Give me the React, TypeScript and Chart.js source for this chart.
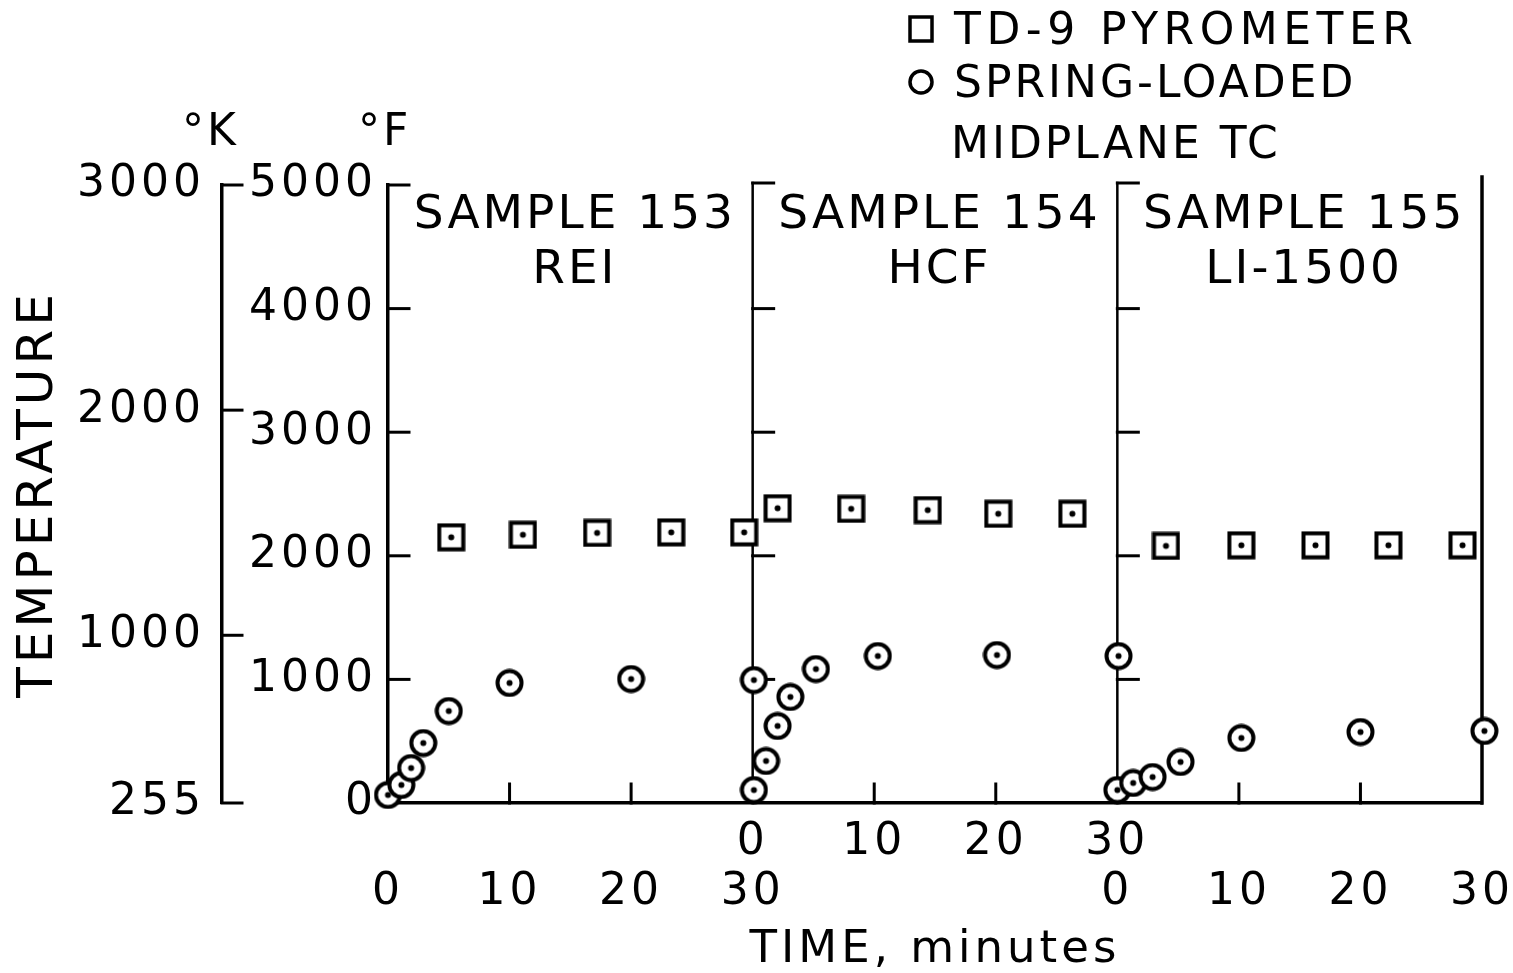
import React, { useEffect, useRef } from "react";
import { Chart, registerables } from "chart.js";

Chart.register(...registerables);

const FONT = "'DejaVu Sans', 'Liberation Sans', sans-serif";

// ---------------- data ----------------
const sampleNames = ["SAMPLE 153", "SAMPLE 154", "SAMPLE 155"];
const materialNames = ["REI", "HCF", "LI-1500"];
const panelMinutes = 30;

const pyroTime153 = [5.2, 11.1, 17.2, 23.3, 29.3];
const pyroTemp153 = [2150, 2170, 2185, 2190, 2190];
const tcTime153 = [0, 1.1, 1.9, 2.9, 5.0, 10.0, 20.0, 30.1];
const tcTemp153 = [65, 146, 283, 485, 744, 971, 1003, 995];

const pyroTime154 = [2.05, 8.1, 14.4, 20.2, 26.3];
const pyroTemp154 = [2385, 2380, 2370, 2340, 2340];
const tcTime154 = [0.1, 1.1, 2.05, 3.1, 5.2, 10.3, 20.1, 30.1];
const tcTemp154 = [105, 340, 623, 858, 1084, 1189, 1197, 1189];

const pyroTime155 = [4.0, 10.2, 16.3, 22.3, 28.4];
const pyroTemp155 = [2080, 2085, 2085, 2085, 2085];
const tcTime155 = [0, 1.3, 2.9, 5.2, 10.2, 20.0, 30.2];
const tcTemp155 = [105, 162, 210, 332, 526, 574, 583];

const fTicks = [0, 1000, 2000, 3000, 4000, 5000];
const kTicks = [255, 1000, 2000, 3000];
const xTickValues = [0, 10, 20, 30, 40, 50, 60, 70, 80, 90];
const xTopRow = ["", "", "", "0", "10", "20", "30", "", "", ""];
const xBottomRow = ["0", "10", "20", "30", "", "", "0", "10", "20", "30"];
const innerMinuteTicks = [10, 20];
const legendPyro = "TD-9 PYROMETER";
const legendTc = ["SPRING-LOADED", "MIDPLANE TC"];

const panels = [
  { pt: pyroTime153, pT: pyroTemp153, tt: tcTime153, tT: tcTemp153 },
  { pt: pyroTime154, pT: pyroTemp154, tt: tcTime154, tT: tcTemp154 },
  { pt: pyroTime155, pT: pyroTemp155, tt: tcTime155, tT: tcTemp155 },
];

const pyroData = panels.flatMap((p, i) =>
  p.pt.map((t, j) => ({ x: i * panelMinutes + t, y: p.pT[j] }))
);
const tcData = panels.flatMap((p, i) =>
  p.tt.map((t, j) => ({ x: i * panelMinutes + t, y: p.tT[j] }))
);

function makeMarker(kind: "square" | "circle", size: number, lw: number, dot: boolean) {
  const c = document.createElement("canvas");
  c.width = size;
  c.height = size;
  const g = c.getContext("2d")!;
  const m = size / 2;
  const r = m - lw / 2 - 0.5;
  g.lineWidth = lw;
  g.strokeStyle = "#000";
  g.fillStyle = "#fff";
  g.beginPath();
  if (kind === "square") g.rect(m - r, m - r, 2 * r, 2 * r);
  else g.arc(m, m, r, 0, Math.PI * 2);
  g.fill();
  g.stroke();
  if (dot) {
    g.beginPath();
    g.fillStyle = "#000";
    g.arc(m, m, 3, 0, Math.PI * 2);
    g.fill();
  }
  return c;
}

function line(ctx: CanvasRenderingContext2D, x1: number, y1: number, x2: number, y2: number) {
  ctx.beginPath();
  ctx.moveTo(x1, y1);
  ctx.lineTo(x2, y2);
  ctx.stroke();
}

function text(
  ctx: CanvasRenderingContext2D,
  s: string,
  x: number,
  y: number,
  size: number,
  align: CanvasTextAlign,
  spacing: number
) {
  ctx.save();
  (ctx as any).letterSpacing = spacing + "px";
  ctx.font = `${size}px ${FONT}`;
  ctx.fillStyle = "#000";
  ctx.textAlign = align;
  ctx.textBaseline = "alphabetic";
  const dx = align === "center" ? spacing / 2 : 0;
  ctx.fillText(s, x + dx, y);
  ctx.restore();
}

const setSpacing = (chart: any) => {
  (chart.ctx as any).letterSpacing = "4px";
};

const decorPlugin = {
  id: "decor",
  afterInit: setSpacing,
  beforeUpdate: setSpacing,
  beforeDraw: setSpacing,
  beforeDatasetsDraw(chart: any) {
    const { ctx, chartArea: ca, scales } = chart;
    const x = scales.x;
    const y = scales.y;
    const yK = scales.yK;
    ctx.save();
    ctx.strokeStyle = "#000";
    ctx.lineCap = "square";
    // panel dividers and right frame
    ctx.lineWidth = 2.5;
    for (let i = 1; i < panels.length; i++) {
      const px = x.getPixelForValue(i * panelMinutes);
      line(ctx, px, ca.top - 2, px, ca.bottom);
    }
    const rx = x.getPixelForValue(panels.length * panelMinutes);
    ctx.lineWidth = 3.5;
    line(ctx, rx, ca.top - 8, rx, ca.bottom);
    // inward ticks on the °F axis and the panel dividers
    ctx.lineWidth = 3;
    for (let i = 0; i < panels.length; i++) {
      const px = x.getPixelForValue(i * panelMinutes);
      for (const f of fTicks) {
        if (f === 0) continue;
        const py = y.getPixelForValue(f) - (f === 5000 && i > 0 ? 2 : 0);
        line(ctx, px, py, px + 21, py);
      }
      for (const m of innerMinuteTicks) {
        const tx = x.getPixelForValue(i * panelMinutes + m);
        line(ctx, tx, ca.bottom, tx, ca.bottom - 19);
      }
    }
    // inward ticks on the °K axis
    for (const k of kTicks) {
      const py = yK.getPixelForValue(k);
      line(ctx, yK.right, py, yK.right + 20, py);
    }
    ctx.restore();
  },
  afterDraw(chart: any) {
    const { ctx, chartArea: ca, scales } = chart;
    const x = scales.x;
    const y = scales.y;
    const yK = scales.yK;
    // unit labels
    text(ctx, "°K", yK.right - 40, ca.top - 40, 44, "left", 3);
    text(ctx, "°F", y.right - 30, ca.top - 40, 44, "left", 3);
    // panel titles
    for (let i = 0; i < panels.length; i++) {
      const cx = x.getPixelForValue(i * panelMinutes + panelMinutes / 2);
      text(ctx, sampleNames[i], cx + 3, ca.top + 43, 47, "center", 3);
      text(ctx, materialNames[i], cx + 3, ca.top + 98, 47, "center", 3);
    }
    // legend
    const lx = ca.left + 533;
    const tx = ca.left + 566;
    ctx.save();
    ctx.strokeStyle = "#000";
    ctx.lineWidth = 3.5;
    ctx.strokeRect(lx - 11, ca.top - 168, 22, 24);
    ctx.beginPath();
    ctx.arc(lx, ca.top - 103, 11, 0, Math.PI * 2);
    ctx.stroke();
    ctx.restore();
    text(ctx, legendPyro, tx, ca.top - 141, 44, "left", 5.5);
    text(ctx, legendTc[0], tx, ca.top - 88, 44, "left", 3);
    text(ctx, legendTc[1], tx - 3, ca.top - 27, 44, "left", 3);
  },
};

export default function App() {
  const ref = useRef<HTMLCanvasElement | null>(null);

  useEffect(() => {
    if (!ref.current) return;
    const squareMarker = makeMarker("square", 29, 4, true);
    const circleMarker = makeMarker("circle", 29, 4, true);
    const tickFont = { family: FONT, size: 44 };
    const plain = (v: any) => String(v);

    const chart = new Chart(ref.current, {
      type: "scatter",
      data: {
        datasets: [
          {
            label: legendPyro,
            data: pyroData,
            pointStyle: squareMarker as any,
            pointRadius: 14,
            showLine: false,
            clip: false as any,
            yAxisID: "y",
          },
          {
            label: legendTc.join(" "),
            data: tcData,
            pointStyle: circleMarker as any,
            pointRadius: 14,
            showLine: false,
            clip: false as any,
            yAxisID: "y",
          },
        ],
      },
      plugins: [decorPlugin as any],
      options: {
        responsive: false,
        animation: false,
        devicePixelRatio: 1,
        events: [],
        layout: { padding: { top: 185, right: 31, bottom: 0, left: 4 } },
        plugins: {
          legend: { display: false },
          tooltip: { enabled: false },
        },
        scales: {
          x: {
            type: "linear",
            position: "bottom",
            min: 0,
            max: panels.length * panelMinutes,
            afterBuildTicks: (s: any) => {
              s.ticks = xTickValues.map((v) => ({ value: v }));
            },
            afterFit: (s: any) => {
              s.height = 170;
              s.paddingLeft = 0;
              s.paddingRight = 0;
            },
            ticks: {
              autoSkip: false,
              maxRotation: 0,
              minRotation: 0,
              padding: 14,
              color: "#000",
              font: { family: FONT, size: 44, lineHeight: 1.14 },
              callback: (_v: any, i: number) => [xTopRow[i], xBottomRow[i]],
            },
            grid: { display: false, drawTicks: false },
            border: { display: true, color: "#000", width: 3.5 },
            title: {
              display: true,
              text: "TIME, minutes",
              color: "#000",
              font: { family: FONT, size: 45, lineHeight: 1.0 },
              padding: { top: 0, bottom: 0 },
            },
          },
          y: {
            type: "linear",
            position: "left",
            weight: 0,
            min: 0,
            max: 5000,
            afterBuildTicks: (s: any) => {
              s.ticks = fTicks.map((v) => ({ value: v }));
            },
            afterFit: (s: any) => {
              s.width = 166;
            },
            ticks: { padding: 11, color: "#000", font: tickFont, callback: plain },
            grid: { display: false, drawTicks: false },
            border: { display: true, color: "#000", width: 3.5 },
          },
          yK: {
            type: "linear",
            position: "left",
            weight: 1,
            min: 255,
            max: 3000,
            afterBuildTicks: (s: any) => {
              s.ticks = kTicks.map((v) => ({ value: v }));
            },
            afterFit: (s: any) => {
              s.width = 218;
            },
            ticks: { padding: 17, color: "#000", font: tickFont, callback: plain },
            grid: { display: false, drawTicks: false },
            border: { display: true, color: "#000", width: 3.5 },
            title: {
              display: true,
              text: "TEMPERATURE",
              color: "#000",
              font: { family: FONT, size: 50, lineHeight: 1.2 },
              padding: { top: 5, bottom: 0 },
            },
          },
        },
      } as any,
    });
    return () => chart.destroy();
  }, []);

  return (
    <div
      style={{
        position: "fixed",
        left: 0,
        top: 0,
        width: 1513,
        height: 973,
        background: "#fff",
        overflow: "hidden",
      }}
    >
      <canvas ref={ref} width={1513} height={973} style={{ display: "block" }} />
    </div>
  );
}
